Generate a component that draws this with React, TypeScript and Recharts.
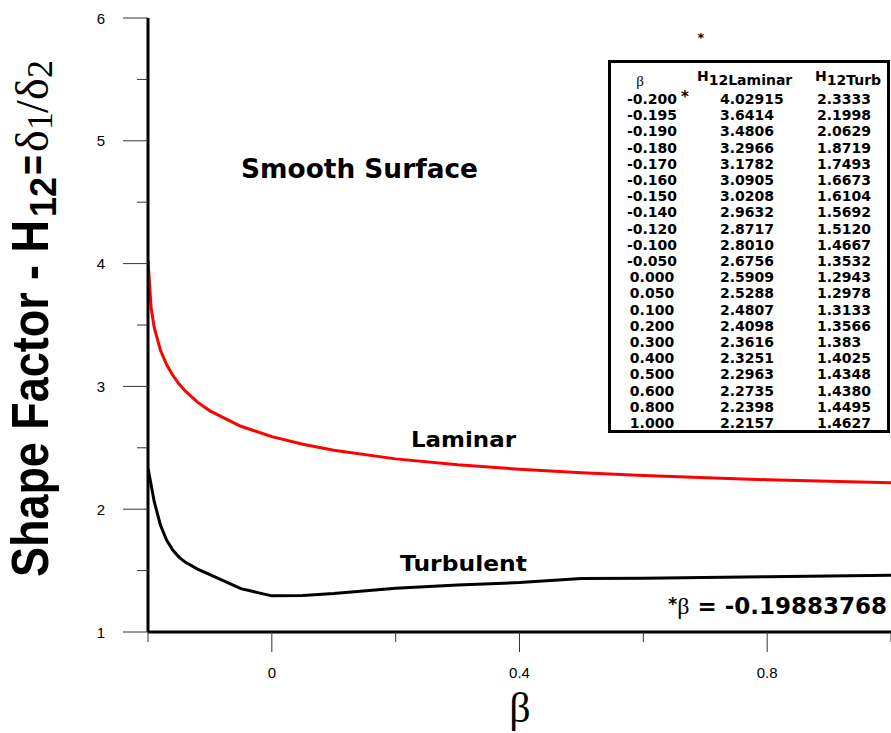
import { LineChart, Line, XAxis, YAxis } from "recharts";

// values as printed in the table (strings keep the printed decimals)
const betaLabels = [
  "-0.200", "-0.195", "-0.190", "-0.180", "-0.170", "-0.160", "-0.150",
  "-0.140", "-0.120", "-0.100", "-0.050", "0.000", "0.050", "0.100",
  "0.200", "0.300", "0.400", "0.500", "0.600", "0.800", "1.000",
];
const laminarLabels = [
  "4.02915", "3.6414", "3.4806", "3.2966", "3.1782", "3.0905", "3.0208",
  "2.9632", "2.8717", "2.8010", "2.6756", "2.5909", "2.5288", "2.4807",
  "2.4098", "2.3616", "2.3251", "2.2963", "2.2735", "2.2398", "2.2157",
];
const turbLabels = [
  "2.3333", "2.1998", "2.0629", "1.8719", "1.7493", "1.6673", "1.6104",
  "1.5692", "1.5120", "1.4667", "1.3532", "1.2943", "1.2978", "1.3133",
  "1.3566", "1.383", "1.4025", "1.4348", "1.4380", "1.4495", "1.4627",
];

const xTicks = [-0.2, 0, 0.2, 0.4, 0.6, 0.8, 1.0];
const xLabelled = [0, 0.4, 0.8];
const yTicks = [1, 1.5, 2, 2.5, 3, 3.5, 4, 4.5, 5, 5.5, 6];

const data = betaLabels.map((b, i) => ({
  beta: Number(b),
  laminar: Number(laminarLabels[i]),
  turbulent: Number(turbLabels[i]),
}));

const BOLD = "'DejaVu Sans', Verdana, sans-serif";
const SANS = "'Liberation Sans', Arial, sans-serif";
const SERIF = "'Liberation Serif', 'Times New Roman', serif";

const YTick = (props: any) => {
  const { x, y, payload } = props;
  const major = Number.isInteger(payload.value);
  return (
    <g>
      <line x1={x - (major ? 25 : 11)} x2={x} y1={y} y2={y} stroke="#333" strokeWidth={1} />
      {major && (
        <text x={x - 47} y={y} textAnchor="middle" dominantBaseline="central"
          fontFamily={SANS} fontSize={15} fill="#000">
          {payload.value}
        </text>
      )}
    </g>
  );
};

const XTick = (props: any) => {
  const { x, y, payload } = props;
  const major = xLabelled.some((v) => Math.abs(v - payload.value) < 1e-9);
  return (
    <g>
      <line x1={x} x2={x} y1={y} y2={y + (major ? 20 : 10)} stroke="#333" strokeWidth={1} />
      {major && (
        <text x={x} y={y + 40} textAnchor="middle" dominantBaseline="central"
          fontFamily={SANS} fontSize={15} fill="#000">
          {payload.value}
        </text>
      )}
    </g>
  );
};

const Overlay = () => {
  const rowY = (i: number) => 104 + i * 16.2;
  return (
    <svg width={891} height={733}
      style={{ position: "absolute", left: 0, top: 0, pointerEvents: "none" }}>
      {/* y axis title */}
      <g transform="translate(48, 577) rotate(-90)">
        <text x={0} y={0} fontFamily={SANS} fontWeight="bold" fontSize={52}
          textLength={357} lengthAdjust="spacingAndGlyphs" fill="#000">
          Shape Factor - H
        </text>
        <text x={360} y={8} fontFamily={SANS} fontWeight="bold" fontSize={36}
          textLength={40} lengthAdjust="spacingAndGlyphs" fill="#000">
          12
        </text>
        <text x={402} y={0} fontFamily={SANS} fontWeight="bold" fontSize={42}
          textLength={20} lengthAdjust="spacingAndGlyphs" fill="#000">
          =
        </text>
        <text x={425} y={0} fontFamily={SERIF} fontSize={46} fill="#000">δ</text>
        <text x={447} y={4} fontFamily={SERIF} fontSize={36} fill="#000">1</text>
        <text x={464} y={0} fontFamily={SERIF} fontSize={46} fill="#000">/</text>
        <text x={477} y={0} fontFamily={SERIF} fontSize={46} fill="#000">δ</text>
        <text x={499} y={4} fontFamily={SERIF} fontSize={36} fill="#000">2</text>
      </g>

      {/* x axis title */}
      <text x={520} y={722} textAnchor="middle" fontFamily={SERIF} fontSize={42} fill="#000">β</text>

      <text x={241} y={178} fontFamily={BOLD} fontWeight="bold" fontSize={26}
        textLength={237} lengthAdjust="spacingAndGlyphs" fill="#000">Smooth Surface</text>
      <text x={411} y={447} fontFamily={BOLD} fontWeight="bold" fontSize={22}
        textLength={105} lengthAdjust="spacingAndGlyphs" fill="#000">Laminar</text>
      <text x={400} y={571} fontFamily={BOLD} fontWeight="bold" fontSize={22}
        textLength={127} lengthAdjust="spacingAndGlyphs" fill="#000">Turbulent</text>

      <text x={887} y={614} textAnchor="end" fill="#000">
        <tspan fontFamily={BOLD} fontWeight="bold" fontSize={17} dy={-4}>*</tspan>
        <tspan fontFamily={SERIF} fontSize={24} dy={4}>β</tspan>
        <tspan fontFamily={BOLD} fontWeight="bold" fontSize={23}> = -0.19883768</tspan>
      </text>

      {/* data table */}
      <text x={701} y={42} textAnchor="middle" fontFamily={BOLD} fontWeight="bold" fontSize={13} fill="#000">*</text>
      <rect x={609.5} y={61.5} width={279} height={370} fill="#fff" stroke="#000" strokeWidth={3} />
      <text x={640} y={86} textAnchor="middle" fontFamily={SERIF} fontSize={15} fill="#000">β</text>
      <text x={697} y={81} fontFamily={BOLD} fontWeight="bold" fontSize={14} fill="#000">
        H<tspan dy={4}>12Laminar</tspan>
      </text>
      <text x={815} y={81} fontFamily={BOLD} fontWeight="bold" fontSize={14} fill="#000">
        H<tspan dy={4}>12Turb</tspan>
      </text>
      <text x={685} y={102} textAnchor="middle" fontFamily={BOLD} fontWeight="bold" fontSize={15} fill="#000">*</text>
      {betaLabels.map((b, i) => (
        <g key={b} fontFamily={BOLD} fontWeight="bold" fontSize={14} fill="#000">
          <text x={652} y={rowY(i)} textAnchor="middle">{b}</text>
          <text x={720} y={rowY(i)}>{laminarLabels[i]}</text>
          <text x={817} y={rowY(i)}>{turbLabels[i]}</text>
        </g>
      ))}
    </svg>
  );
};

export default function App() {
  return (
    <div style={{ position: "absolute", left: 0, top: 0, width: 891, height: 733, background: "#fff" }}>
      <LineChart width={891} height={733} data={data}
        margin={{ top: 18, right: 0, bottom: 0, left: 0 }}>
        <XAxis type="number" dataKey="beta" domain={[-0.2, 1]} ticks={xTicks}
          allowDataOverflow interval={0} height={101} tickSize={0} tickMargin={0}
          tickLine={false} axisLine={{ stroke: "#000", strokeWidth: 3 }} tick={<XTick />} />
        <YAxis type="number" domain={[1, 6]} ticks={yTicks} allowDataOverflow interval={0}
          width={148} tickSize={0} tickMargin={0} tickLine={false}
          axisLine={{ stroke: "#000", strokeWidth: 3 }} tick={<YTick />} />
        <Line type="linear" dataKey="laminar" stroke="#ff0000" strokeWidth={3}
          dot={false} isAnimationActive={false} />
        <Line type="linear" dataKey="turbulent" stroke="#000" strokeWidth={3}
          dot={false} isAnimationActive={false} />
      </LineChart>
      <Overlay />
    </div>
  );
}
